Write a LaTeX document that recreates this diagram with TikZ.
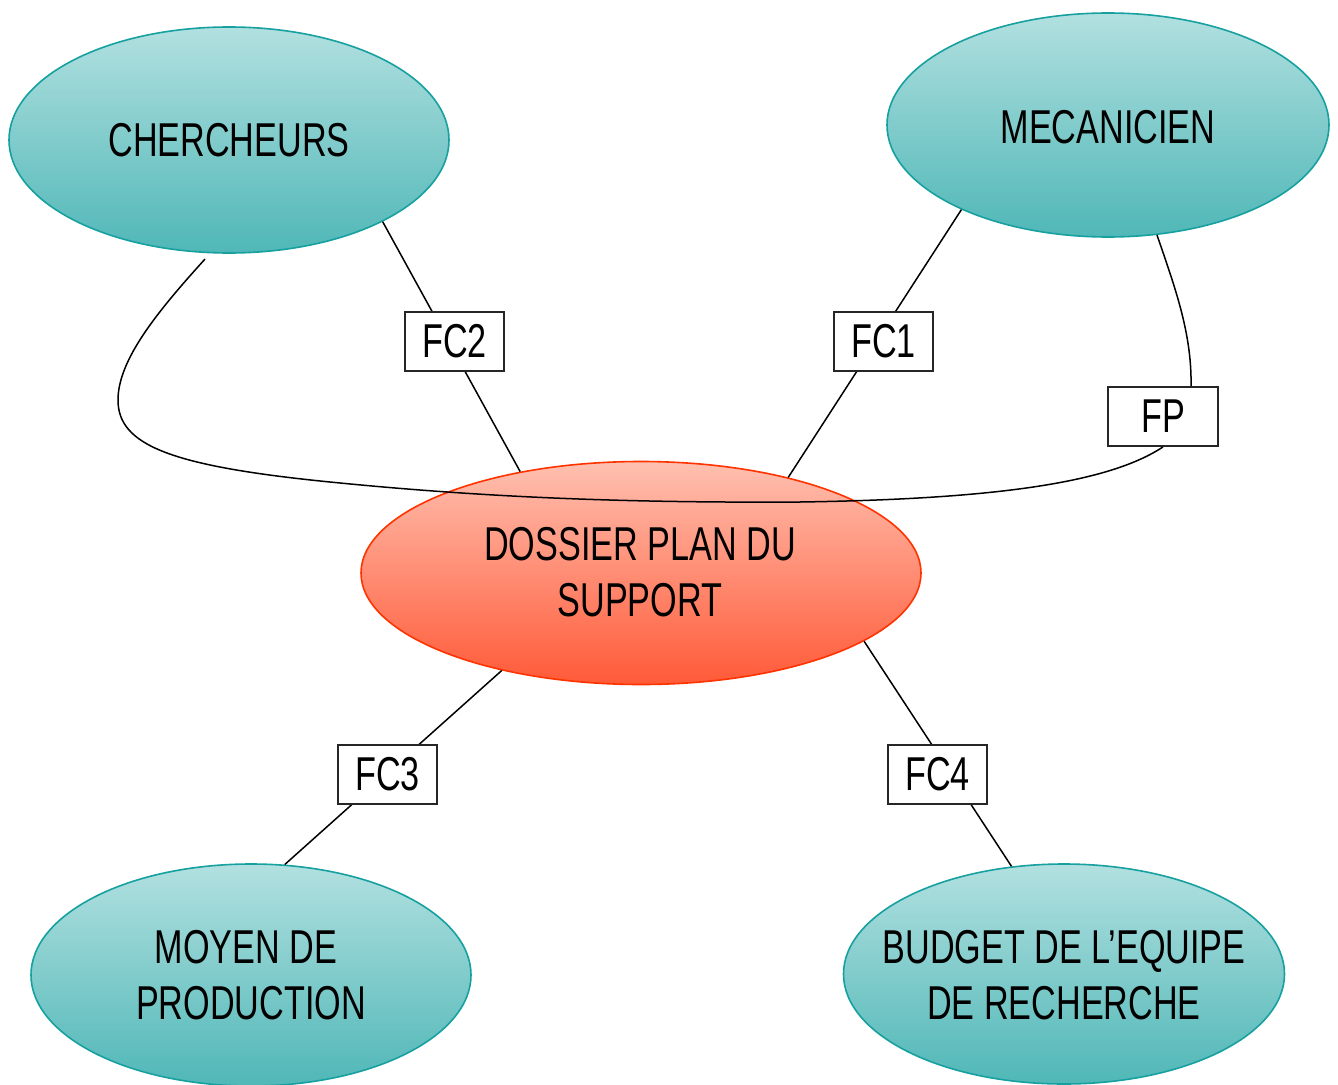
\documentclass[tikz,border=0pt]{standalone}
\usepackage{fontspec}
\setmainfont{Liberation Sans}[FakeStretch=0.72]
\usetikzlibrary{shapes.geometric}
\definecolor{tealtop}{HTML}{B2E0E0}
\definecolor{tealbot}{HTML}{50B7B7}
\definecolor{tealline}{HTML}{17A0A0}
\definecolor{saltop}{HTML}{FFC0B0}
\definecolor{salbot}{HTML}{FF5A38}
\definecolor{salline}{HTML}{FF3300}
\begin{document}
\begin{tikzpicture}[x=1pt,y=-1pt,
  actorell/.style={ellipse, draw=tealline, line width=1.6pt, top color=tealtop, bottom color=tealbot, inner sep=0pt},
  mainell/.style={ellipse, draw=salline, line width=1.6pt, top color=saltop, bottom color=salbot, inner sep=0pt},
  lbl/.style={inner sep=0pt, align=center, font=\fontsize{47.5}{56}\selectfont},
  fcbox/.style={draw=black!85, line width=1.8pt, fill=white, inner sep=0pt, minimum width=99pt, minimum height=59pt, font=\fontsize{47.5}{56}\selectfont},
  conn/.style={draw=black, line width=1.5pt}]
\useasboundingbox (0,0) rectangle (1338,1084);
% ellipses
\node[actorell, minimum width=440pt, minimum height=226pt] (cher) at (229,140) {};
\node[actorell, minimum width=442pt, minimum height=224pt] (mec) at (1108,125) {};
\node[mainell, minimum width=560pt, minimum height=223pt] (doss) at (641,573) {};
\node[actorell, minimum width=440pt, minimum height=222pt] (moy) at (251,975) {};
\node[actorell, minimum width=441pt, minimum height=220pt] (bud) at (1064,974) {};
\node[lbl] (chert) at (229,140) {CHERCHEURS};
\node[lbl] (mect) at (1108,127) {MECANICIEN};
\node[lbl] (dosst) at (640,572) {DOSSIER PLAN DU\\SUPPORT};
\node[lbl] (moyt) at (251,975) {MOYEN DE\hspace*{10pt}\\PRODUCTION};
\node[lbl] (budt) at (1064,975) {BUDGET DE L’EQUIPE\\DE RECHERCHE};
% FP box (its connectors end at its border)
\node[fcbox, minimum width=110pt] (fp) at (1163,416.5) {FP};
% connectors
\draw[conn] (cher.-28) -- (doss.140);
\draw[conn] (mec.-150) -- (doss.33);
\draw[conn] (doss.-145) -- (moy.73);
\draw[conn] (doss.-17.5) -- (bud.116);
\draw[conn] (mec.-66) .. controls (1176,290) and (1192,335) .. ([xshift=28pt]fp.north);
\draw[conn] ([yshift=-6pt]cher.-102) .. controls (157,312) and (118,360) .. (118,400)
   .. controls (118,445) and (170,466) .. (330,482)
   .. controls (480,497) and (620,503) .. (800,502)
   .. controls (1000,499) and (1110,482) .. (fp.south);
% label boxes on the straight connectors
\node[fcbox] (fc2) at (454.5,341.5) {FC2};
\node[fcbox] (fc1) at (883.5,341.5) {FC1};
\node[fcbox] (fc3) at (387.5,774.5) {FC3};
\node[fcbox] (fc4) at (937.5,774.5) {FC4};
\end{tikzpicture}
\end{document}
